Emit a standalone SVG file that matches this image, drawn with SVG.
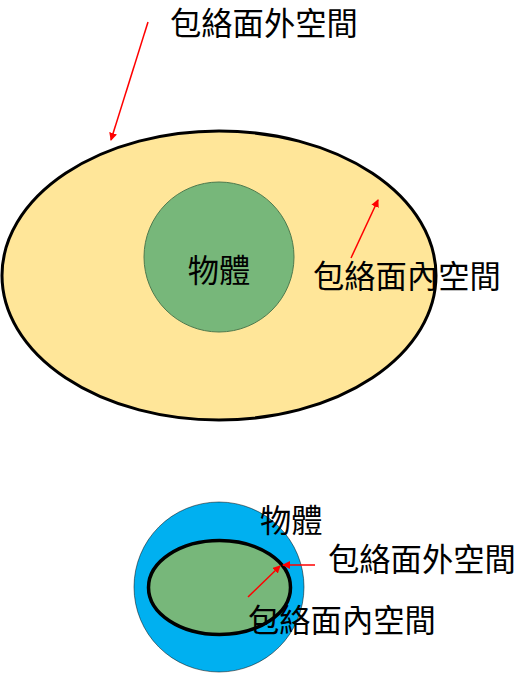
<svg xmlns="http://www.w3.org/2000/svg" width="520" height="673" viewBox="0 0 520 673">
<style>
text{font-family:"Noto Sans CJK TC","Noto Sans CJK SC",sans-serif;font-size:31.3px;fill:#000}
.arr{stroke:#FF0000;stroke-width:1.5;fill:none;marker-end:url(#ah)}
</style>
<defs>
<marker id="ah" markerWidth="8" markerHeight="8" refX="7" refY="4" orient="auto" markerUnits="userSpaceOnUse" viewBox="0 0 8 8">
<path d="M0,0 L8,4 L0,8 Z" fill="#FF0000"/>
</marker>
</defs>
<rect width="520" height="673" fill="#fff"/>
<g id="outer-ellipse"><ellipse cx="219" cy="275.5" rx="217" ry="144.5" fill="#FFE699" stroke="#000" stroke-width="3"/></g>
<g id="object-top"><circle cx="219" cy="257" r="75" fill="#77B77A" stroke="#4E7A4E" stroke-width="1"/><text x="219" y="282" text-anchor="middle">物體</text></g>
<g id="label-outer-top"><text x="170" y="35">包絡面外空間</text></g>
<g id="label-inner-top"><text x="313" y="288">包絡面內空間</text></g>
<g id="blue-circle"><circle cx="219" cy="587" r="85" fill="#00B0F0" stroke="#000" stroke-width="0.5"/></g>
<g id="inner-ellipse"><ellipse cx="219.5" cy="587.5" rx="71" ry="47" fill="#77B77A" stroke="#000" stroke-width="3.5"/></g>
<g id="label-object-bottom"><text x="260" y="532">物體</text></g>
<g id="label-outer-bottom"><text x="328" y="571">包絡面外空間</text></g>
<g id="label-inner-bottom"><text x="248" y="632">包絡面內空間</text></g>
<g id="connectors">
<line class="arr" x1="148" y1="22" x2="111" y2="140"/>
<line class="arr" x1="351" y1="258" x2="378" y2="200"/>
<line class="arr" x1="315" y1="565" x2="283" y2="565"/>
<line class="arr" x1="248" y1="597" x2="280" y2="566"/>
</g>
</svg>
